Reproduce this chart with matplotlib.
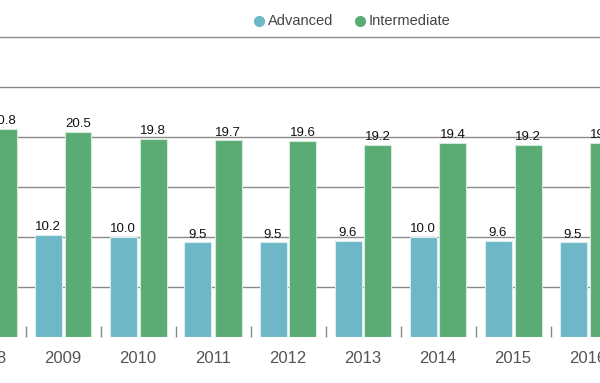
import matplotlib.pyplot as plt
from matplotlib.lines import Line2D
import numpy as np

plt.rcParams['font.family'] = ['Liberation Sans', 'DejaVu Sans']

years = ['2008', '2009', '2010', '2011', '2012', '2013', '2014', '2015', '2016']
advanced = [10.4, 10.2, 10.0, 9.5, 9.5, 9.6, 10.0, 9.6, 9.5]
intermediate = [20.8, 20.5, 19.8, 19.7, 19.6, 19.2, 19.4, 19.2, 19.4]
grid_levels = [5, 10, 15, 20, 25, 30]
series_names = ['Advanced', 'Intermediate']

c_adv = '#6eb7c7'
c_int = '#5aab74'

fig = plt.figure(figsize=(6, 3.83), dpi=100)
# axes run past both figure edges, like the cropped original
ax = fig.add_axes([-49.5 / 600, 46 / 383, 675 / 600, 310 / 383])

x = np.arange(len(years))
w = 0.36
gap = 0.02
for g in grid_levels:
    ax.axhline(g, color='#8a8a8a', lw=1, zorder=1)

ax.bar(x - w / 2 - gap, advanced, w, color=c_adv, edgecolor='#d8eef2', lw=0.8, zorder=2)
ax.bar(x + w / 2 + gap, intermediate, w, color=c_int, edgecolor='#d3ecd9', lw=0.8, zorder=2)

for i in range(len(years)):
    ax.text(x[i] - w / 2 - gap, advanced[i] + 0.15, f'{advanced[i]:.1f}',
            ha='center', va='bottom', fontsize=9.5, color='#111111', zorder=3)
    ax.text(x[i] + w / 2 + gap, intermediate[i] + 0.15, f'{intermediate[i]:.1f}',
            ha='center', va='bottom', fontsize=9.5, color='#111111', zorder=3)

ax.set_xlim(-0.5, len(years) - 0.5)
ax.set_ylim(0, 31)
ax.set_xticks(x)
ax.set_xticklabels(years, fontsize=12, color='#555555')
ax.tick_params(axis='x', which='major', length=0, pad=10)
ax.set_xticks(x[:-1] + 0.5, minor=True)
ax.tick_params(axis='x', which='minor', direction='in', length=8, width=1, color='#888888')
ax.set_yticks([])
for s in ax.spines.values():
    s.set_visible(False)

# legend drawn by hand: dot + label
ly = 1 - 21 / 383
for px, name, col in [(259, series_names[0], c_adv), (360, series_names[1], c_int)]:
    fig.add_artist(Line2D([px / 600], [ly], marker='o', ls='', color=col,
                          markersize=7, transform=fig.transFigure))
    fig.text((px + 9) / 600, ly, name, ha='left', va='center',
             fontsize=10.5, color='#444444')

fig.savefig('out.png', dpi=100)
